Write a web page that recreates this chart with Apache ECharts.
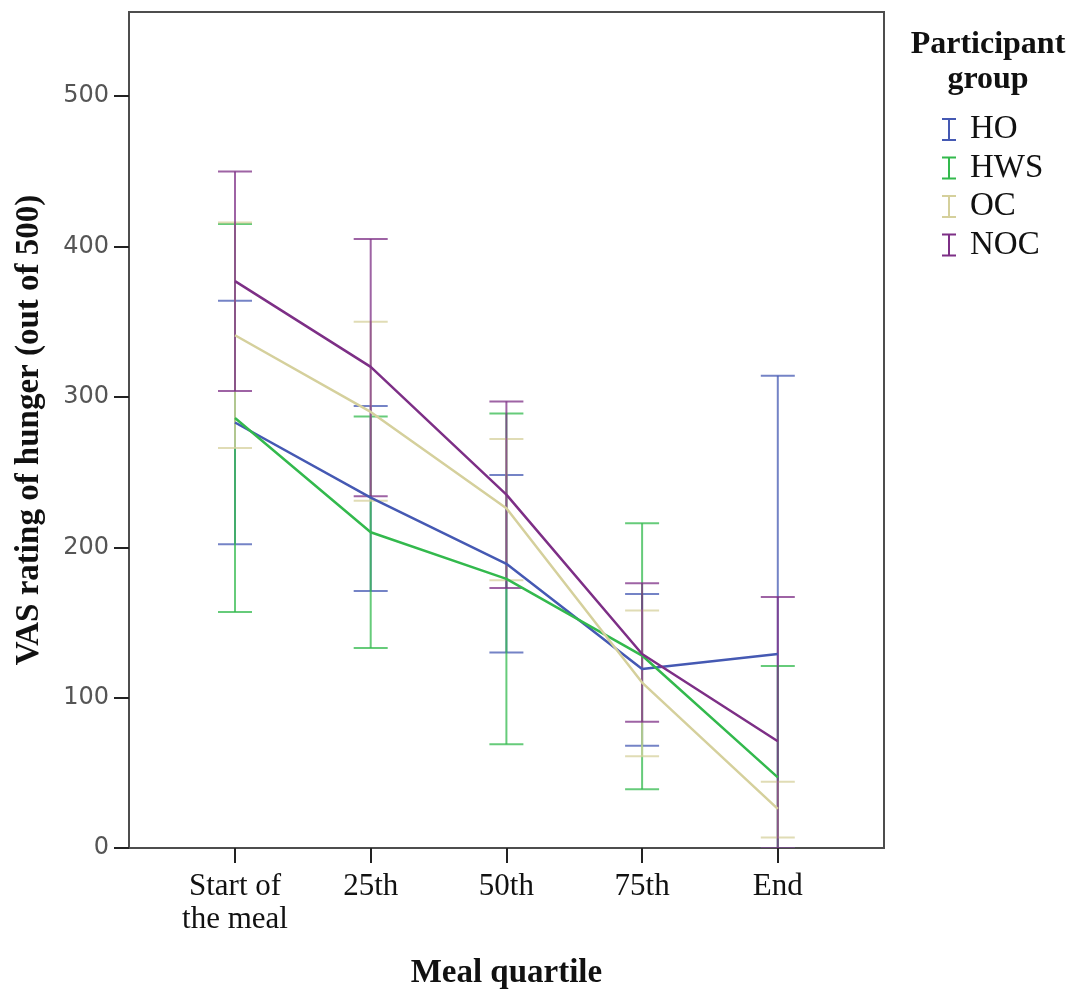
<!DOCTYPE html>
<html><head><meta charset="utf-8">
<script src="https://cdn.jsdelivr.net/npm/echarts@6/dist/echarts.min.js"></script>
<style>html,body{margin:0;padding:0;background:#fff}#c{width:1074px;height:990px}</style>
</head><body><div id="c"></div>
<script>
const categories = ['Start of\nthe meal', '25th', '50th', '75th', 'End'];
const groups = ['HO', 'HWS', 'OC', 'NOC'];
const yTicks = [0, 100, 200, 300, 400, 500];

const hoMean  = [283, 233, 189, 119, 129];
const hoLow   = [202, 171, 130, 68, -56];
const hoHigh  = [364, 294, 248, 169, 314];

const hwsMean = [286, 210, 179, 128, 47];
const hwsLow  = [157, 133, 69, 39, -27];
const hwsHigh = [415, 287, 289, 216, 121];

const ocMean  = [341, 290, 226, 110, 26];
const ocLow   = [266, 231, 178, 61, 7];
const ocHigh  = [416, 350, 272, 158, 44];

const nocMean = [377, 320, 235, 129, 71];
const nocLow  = [304, 234, 173, 84, -25];
const nocHigh = [450, 405, 297, 176, 167];

const colors = ['#4559B3', '#33B94D', '#D5D09C', '#7D2F86'];
const means = [hoMean, hwsMean, ocMean, nocMean];
const lows = [hoLow, hwsLow, ocLow, nocLow];
const highs = [hoHigh, hwsHigh, ocHigh, nocHigh];

const Y_MIN = 0, Y_MAX = 556;
const serif = '"Liberation Serif", "Times New Roman", serif';

const series = [];
groups.forEach((g, i) => {
  series.push({
    type: 'custom', name: g, xAxisIndex: 1, yAxisIndex: 1, clip: true, z: 2,
    itemStyle: { color: colors[i] },
    data: categories.map((c, j) => [j, lows[i][j], highs[i][j]]),
    renderItem: (params, api) => {
      const x = api.value(0);
      const lo = api.coord([x, Math.max(api.value(1), Y_MIN)]);
      const hi = api.coord([x, api.value(2)]);
      const hw = 17;
      const style = { stroke: colors[i], lineWidth: 2, opacity: 0.75 };
      return { type: 'group', children: [
        { type: 'line', shape: { x1: lo[0], y1: lo[1], x2: hi[0], y2: hi[1] }, style },
        { type: 'line', shape: { x1: hi[0] - hw, y1: hi[1], x2: hi[0] + hw, y2: hi[1] }, style },
        { type: 'line', shape: { x1: lo[0] - hw, y1: lo[1], x2: lo[0] + hw, y2: lo[1] }, style }
      ]};
    }
  });
});
groups.forEach((g, i) => {
  series.push({
    type: 'line', name: g, xAxisIndex: 1, yAxisIndex: 1, z: 3,
    data: means[i], symbol: 'none', silent: true,
    itemStyle: { color: colors[i] },
    lineStyle: { color: colors[i], width: 2.5 }
  });
});

const chart = echarts.init(document.getElementById('c'), null, { renderer: 'canvas' });
chart.setOption({
  animation: false,
  backgroundColor: '#fff',
  grid: [
    { left: 129, top: 12, width: 755, height: 836, outerBoundsMode: 'none', containLabel: false,
      show: true, borderColor: '#4d4d4d', borderWidth: 2, backgroundColor: 'transparent' },
    { left: 167.15, top: 12, width: 678.5, height: 836, outerBoundsMode: 'none', containLabel: false }
  ],
  xAxis: [
    { gridIndex: 0, type: 'value', min: 0, max: 1, show: false },
    { gridIndex: 1, type: 'category', data: categories, boundaryGap: true,
      axisLine: { show: false },
      axisTick: { show: true, inside: false, interval: 0, alignWithLabel: true, length: 15, lineStyle: { color: '#222', width: 2 } },
      axisLabel: { interval: 0, hideOverlap: false, color: '#111', fontFamily: serif, fontSize: 31, lineHeight: 33, margin: 22 },
      name: 'Meal quartile', nameLocation: 'middle', nameGap: 109,
      nameTextStyle: { fontFamily: serif, fontWeight: 'bold', fontSize: 33, color: '#111' }
    }
  ],
  yAxis: [
    { gridIndex: 0, type: 'value', min: Y_MIN, max: Y_MAX,
      axisLine: { show: false }, splitLine: { show: false },
      axisTick: { show: true, inside: false, length: 15, lineStyle: { color: '#222', width: 2 }, customValues: yTicks },
      axisLabel: { color: '#555', fontFamily: '"DejaVu Sans", sans-serif', fontSize: 24, margin: 20, customValues: yTicks },
      name: 'VAS rating of hunger (out of 500)', nameLocation: 'middle', nameGap: 83, nameRotate: 90,
      nameTextStyle: { fontFamily: serif, fontWeight: 'bold', fontSize: 33, color: '#111' }
    },
    { gridIndex: 1, type: 'value', min: Y_MIN, max: Y_MAX, show: false }
  ],
  legend: {
    orient: 'vertical', left: 937, top: 108, itemGap: 5.5,
    itemWidth: 14, itemHeight: 23,
    icon: 'path://M0,0H14V2H8V21H14V23H0V21H6V2H0Z',
    data: groups,
    textStyle: { fontFamily: serif, fontSize: 33, lineHeight: 30, color: '#111', padding: [0, 0, 0, 9] },
    selectedMode: false
  },
  graphic: [
    { type: 'text', x: 988, y: 45, silent: true,
      style: { text: 'Participant', fontFamily: serif, fontWeight: 'bold', fontSize: 32, fill: '#111', align: 'center', verticalAlign: 'middle' } },
    { type: 'text', x: 988, y: 80, silent: true,
      style: { text: 'group', fontFamily: serif, fontWeight: 'bold', fontSize: 32, fill: '#111', align: 'center', verticalAlign: 'middle' } }
  ],
  series
});
</script></body></html>
